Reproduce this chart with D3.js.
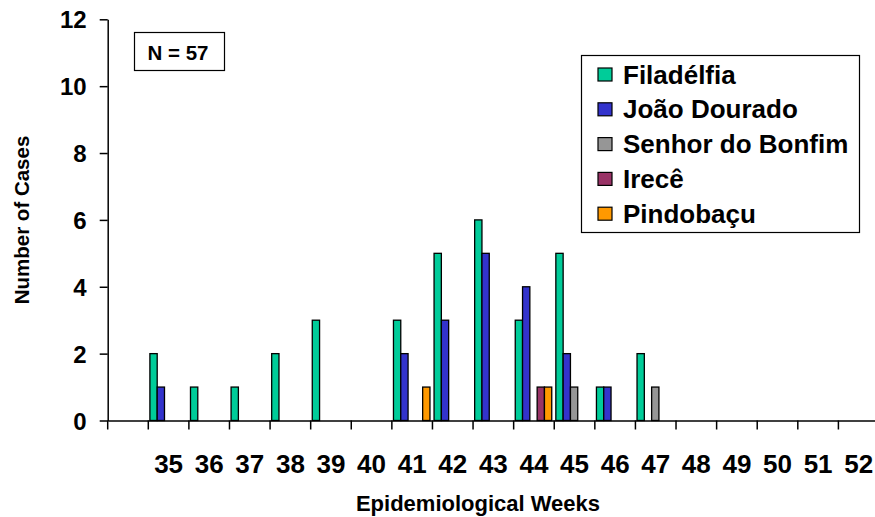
<!DOCTYPE html>
<html>
<head>
<meta charset="utf-8">
<script src="https://cdn.jsdelivr.net/npm/d3@7"></script>
<style>
  html, body { margin: 0; padding: 0; background: #fff; }
  svg text { font-family: Arial, "Liberation Sans", sans-serif; font-weight: bold; fill: #000; }
</style>
</head>
<body>
<svg id="chart" width="875" height="517"></svg>
<script>
const weeks = ["", "35", "36", "37", "38", "39", "40", "41", "42", "43", "44", "45", "46", "47", "48", "49", "50", "51", "52"];
const seriesNames = ["Filadélfia", "João Dourado", "Senhor do Bonfim", "Irecê", "Pindobaçu"];
const filadelfia     = [0, 2, 1, 1, 2, 3, 0, 3, 5, 6, 3, 5, 1, 2, 0, 0, 0, 0, 0];
const joaoDourado    = [0, 1, 0, 0, 0, 0, 0, 2, 3, 5, 4, 2, 1, 0, 0, 0, 0, 0, 0];
const senhorDoBonfim = [0, 0, 0, 0, 0, 0, 0, 0, 0, 0, 0, 1, 0, 1, 0, 0, 0, 0, 0];
const irece          = [0, 0, 0, 0, 0, 0, 0, 0, 0, 0, 1, 0, 0, 0, 0, 0, 0, 0, 0];
const pindobacu      = [0, 0, 0, 0, 0, 0, 0, 1, 0, 0, 1, 0, 0, 0, 0, 0, 0, 0, 0];
const yTicks = [0, 2, 4, 6, 8, 10, 12];
const colors = ["#00CC99", "#3333CC", "#969696", "#993366", "#FF9900"];
const seriesValues = [filadelfia, joaoDourado, senhorDoBonfim, irece, pindobacu];

const svg = d3.select("#chart");
const plotLeft = 107.7, plotRight = 879, plotTop = 19.3, plotBottom = 420.5;

const x = d3.scaleBand().domain(weeks).range([plotLeft, plotRight]).padding(0);
const x1 = d3.scaleBand().domain(seriesNames).range([1.6, 38.1]).padding(0);
const y = d3.scaleLinear().domain([0, 12]).range([plotBottom, plotTop]);

// bars
const data = [];
weeks.forEach((w, i) => {
  seriesNames.forEach((s, j) => {
    const v = seriesValues[j][i];
    if (v > 0) data.push({ w, s, v, c: colors[j] });
  });
});
svg.append("g").selectAll("rect").data(data).join("rect")
  .attr("x", d => x(d.w) + x1(d.s))
  .attr("y", d => y(d.v))
  .attr("width", x1.bandwidth())
  .attr("height", d => y(0) - y(d.v))
  .attr("fill", d => d.c)
  .attr("stroke", "#000")
  .attr("stroke-width", 1.3);

// y axis
const yAxis = svg.append("g").attr("transform", `translate(${plotLeft},0)`)
  .call(d3.axisLeft(y).tickValues(yTicks).tickSize(8).tickPadding(13).tickSizeOuter(0));
yAxis.select(".domain").attr("stroke", "#000").attr("stroke-width", 1.5);
yAxis.selectAll(".tick line").attr("stroke", "#000").attr("stroke-width", 1.5);
yAxis.selectAll(".tick text").style("font-size", "24px").attr("dy", "0.36em")
  .style("font-family", "Arial, 'Liberation Sans', sans-serif").style("font-weight", "bold");

// x axis
const xAxis = svg.append("g").attr("transform", `translate(0,${plotBottom})`)
  .call(d3.axisBottom(x).tickSize(0).tickPadding(34).tickSizeOuter(0));
xAxis.select(".domain").attr("stroke", "#000").attr("stroke-width", 1.5);
xAxis.selectAll(".tick text").style("font-size", "26px")
  .style("font-family", "Arial, 'Liberation Sans', sans-serif").style("font-weight", "bold");
// category separator ticks
xAxis.append("g").selectAll("line").data(weeks).join("line")
  .attr("x1", d => x(d)).attr("x2", d => x(d))
  .attr("y1", 0).attr("y2", 9)
  .attr("stroke", "#000").attr("stroke-width", 1.5);

// axis titles
svg.append("text")
  .attr("x", 478).attr("y", 511)
  .attr("text-anchor", "middle")
  .style("font-size", "22px")
  .text("Epidemiological Weeks");
svg.append("text")
  .attr("transform", "translate(29,220) rotate(-90)")
  .attr("text-anchor", "middle")
  .style("font-size", "20.5px")
  .text("Number of Cases");

// N box
svg.append("rect").attr("x", 134.5).attr("y", 32.5).attr("width", 90).attr("height", 38)
  .attr("fill", "#fff").attr("stroke", "#000").attr("stroke-width", 1.2);
svg.append("text").attr("x", 178).attr("y", 59.5).attr("text-anchor", "middle")
  .style("font-size", "20.5px").text("N = 57");

// legend
const lg = svg.append("g");
lg.append("rect").attr("x", 581.5).attr("y", 55.5).attr("width", 278).attr("height", 177)
  .attr("fill", "#fff").attr("stroke", "#000").attr("stroke-width", 1.2);
const rows = lg.selectAll("g.row").data(seriesNames).join("g").attr("class", "row")
  .attr("transform", (d, i) => `translate(0,${74.5 + i * 34.8})`);
rows.append("rect").attr("x", 598).attr("y", -6.5).attr("width", 14).attr("height", 13)
  .attr("fill", (d, i) => colors[i]).attr("stroke", "#000").attr("stroke-width", 1.2);
rows.append("text").attr("x", 623).attr("y", 9).style("font-size", "26px").text(d => d);
</script>
</body>
</html>
